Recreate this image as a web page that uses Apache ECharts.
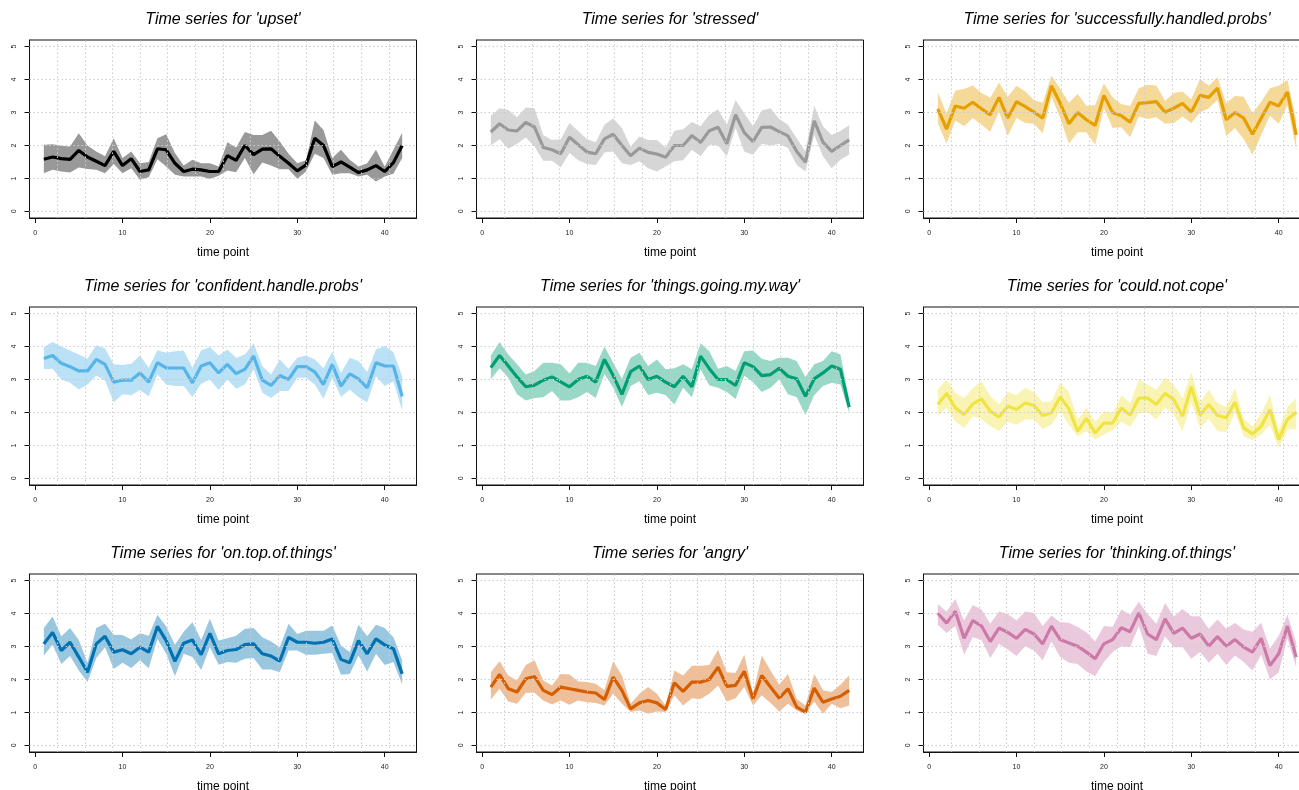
<!DOCTYPE html>
<html><head><meta charset="utf-8">
<script src="https://cdn.jsdelivr.net/npm/echarts@6/dist/echarts.min.js"></script>
<style>html,body{margin:0;padding:0;background:#fff;overflow:hidden}#c{width:1299px;height:790px}</style>
</head><body><div id="c"></div><script>
const timePoints = [1,2,3,4,5,6,7,8,9,10,11,12,13,14,15,16,17,18,19,20,21,22,23,24,25,26,27,28,29,30,31,32,33,34,35,36,37,38,39,40,41,42];
const variableNames = ['upset','stressed','successfully.handled.probs','confident.handle.probs','things.going.my.way','could.not.cope','on.top.of.things','angry','thinking.of.things'];
const xTickValues = [0,10,20,30,40];
const yTickValues = [0,1,2,3,4,5];
const xAxisTitle = 'time point';

const upsetMean  = [1.58,1.65,1.6,1.58,1.85,1.65,1.52,1.39,1.82,1.39,1.6,1.21,1.26,1.9,1.87,1.46,1.21,1.28,1.26,1.21,1.21,1.69,1.55,2.0,1.72,1.89,1.9,1.67,1.46,1.23,1.41,2.22,2.0,1.36,1.5,1.34,1.18,1.26,1.39,1.21,1.48,2.0];
const upsetUpper = [2.02,2.04,1.99,1.97,2.37,2.0,1.82,1.67,2.22,1.62,1.82,1.46,1.5,2.22,2.34,1.77,1.39,1.57,1.46,1.46,1.36,2.1,1.94,2.41,2.32,2.32,2.45,2.12,1.75,1.46,1.55,2.76,2.47,1.62,1.87,1.57,1.36,1.46,1.87,1.36,1.87,2.39];
const upsetLower = [1.16,1.26,1.21,1.18,1.33,1.29,1.26,1.16,1.44,1.16,1.31,0.96,1.04,1.58,1.36,1.11,1.06,1.06,1.06,0.98,1.08,1.24,1.19,1.62,1.13,1.48,1.39,1.28,1.28,0.99,1.21,1.75,1.62,1.11,1.16,1.16,1.06,1.11,0.91,1.06,1.14,1.62];

const stressedMean  = [2.41,2.66,2.47,2.44,2.7,2.56,1.94,1.87,1.75,2.25,2.02,1.8,1.75,2.2,2.34,2.0,1.69,1.92,1.79,1.74,1.64,2.0,2.0,2.3,2.09,2.45,2.55,2.05,2.93,2.39,2.12,2.55,2.56,2.42,2.29,1.82,1.49,2.75,2.1,1.82,2.0,2.17];
const stressedUpper = [2.9,3.13,3.08,2.86,3.15,3.13,2.32,2.17,2.19,2.68,2.44,2.19,2.1,2.63,2.82,2.53,1.97,2.27,2.17,2.17,1.94,2.45,2.49,2.71,2.58,2.93,3.1,2.63,3.38,2.98,2.58,3.06,3.13,2.8,2.63,2.22,1.82,3.2,2.58,2.32,2.44,2.61];
const stressedLower = [2.0,2.19,1.9,2.05,2.24,1.97,1.54,1.54,1.34,1.77,1.55,1.44,1.41,1.79,1.82,1.46,1.41,1.52,1.31,1.21,1.36,1.52,1.55,1.87,1.67,2.02,2.0,1.67,2.53,1.82,1.72,2.05,2.0,2.05,1.92,1.41,1.21,2.32,1.67,1.31,1.57,1.72];

const successMean  = [3.11,2.5,3.2,3.13,3.31,3.11,2.93,3.46,2.83,3.33,3.18,3.01,2.83,3.81,3.28,2.66,3.0,2.78,2.61,3.52,3.0,2.9,2.71,3.28,3.3,3.33,3.01,3.13,3.28,3.01,3.52,3.46,3.74,2.78,3.0,2.83,2.34,2.83,3.31,3.2,3.62,2.32];
const successUpper = [3.61,2.98,3.67,3.71,3.82,3.59,3.45,3.91,3.48,3.81,3.64,3.38,3.3,4.12,3.72,3.3,3.57,3.2,3.23,3.89,3.46,3.25,3.2,3.74,3.84,3.82,3.36,3.59,3.64,3.4,4.02,3.81,4.07,3.28,3.51,3.48,2.98,3.33,3.74,3.81,3.99,2.78];
const successLower = [2.68,2.05,2.76,2.58,2.83,2.63,2.42,3.03,2.29,2.83,2.68,2.66,2.37,3.48,2.83,2.05,2.4,2.4,2.02,3.13,2.53,2.55,2.25,2.88,2.8,2.86,2.66,2.68,2.88,2.68,3.0,3.13,3.38,2.29,2.53,2.19,1.72,2.32,2.9,2.66,3.23,1.87];

const confidentMean  = [3.64,3.73,3.49,3.39,3.26,3.26,3.61,3.46,2.92,2.98,2.98,3.2,2.92,3.51,3.35,3.35,3.35,2.9,3.41,3.51,3.2,3.46,3.18,3.31,3.71,2.98,2.82,3.12,3.0,3.39,3.39,3.23,2.85,3.46,2.8,3.17,3.02,2.75,3.51,3.41,3.41,2.49];
const confidentUpper = [3.99,4.14,4.0,3.88,3.76,3.63,4.04,3.94,3.46,3.44,3.48,3.73,3.36,3.89,3.81,3.86,3.88,3.36,3.88,3.99,3.73,3.91,3.66,3.76,4.1,3.41,3.15,3.61,3.33,3.66,3.73,3.61,3.34,3.84,3.2,3.66,3.56,3.23,3.91,4.02,3.83,3.1];
const confidentLower = [3.31,3.33,3.0,2.9,2.7,2.85,3.12,2.97,2.31,2.55,2.52,2.68,2.49,3.15,2.85,2.8,2.8,2.47,2.87,3.0,2.68,3.0,2.72,2.85,3.31,2.6,2.44,2.65,2.65,3.05,3.05,2.85,2.42,3.05,2.47,2.7,2.47,2.31,3.1,2.8,2.95,2.06];

const thingsMean  = [3.36,3.73,3.41,3.08,2.78,2.83,2.98,3.08,2.93,2.78,3.0,3.1,2.92,3.61,3.12,2.55,3.24,3.41,3.0,3.1,2.92,2.78,3.1,2.78,3.71,3.33,3.0,3.0,2.82,3.51,3.39,3.12,3.15,3.34,3.1,3.02,2.49,3.02,3.2,3.41,3.31,2.16];
const thingsUpper = [3.73,4.14,3.76,3.46,3.15,3.26,3.51,3.51,3.46,3.18,3.51,3.51,3.41,4.0,3.51,3.02,3.66,3.81,3.41,3.61,3.31,3.34,3.46,3.31,4.1,3.86,3.33,3.41,3.26,3.86,3.88,3.63,3.56,3.66,3.66,3.56,3.08,3.46,3.56,3.86,3.76,2.39];
const thingsLower = [3.0,3.34,3.05,2.55,2.36,2.44,2.46,2.65,2.36,2.36,2.46,2.62,2.44,3.17,2.75,2.17,2.8,2.95,2.53,2.6,2.53,2.24,2.75,2.46,3.31,2.82,2.75,2.62,2.41,3.12,2.92,2.62,2.75,3.0,2.55,2.46,1.92,2.52,2.8,2.9,2.85,1.99];

const copeMean  = [2.24,2.58,2.14,1.94,2.26,2.41,2.04,1.86,2.19,2.09,2.29,2.21,1.91,1.99,2.47,2.11,1.43,1.82,1.38,1.68,1.68,2.14,1.92,2.44,2.44,2.24,2.58,2.39,1.89,2.78,1.92,2.24,1.91,1.84,2.31,1.53,1.35,1.58,2.09,1.18,1.79,2.0];
const copeUpper = [2.7,3.0,2.6,2.43,2.74,2.95,2.5,2.24,2.62,2.52,2.75,2.62,2.31,2.34,2.91,2.62,1.79,2.14,1.72,2.04,1.97,2.52,2.29,3.0,2.85,2.7,3.06,2.85,2.43,3.23,2.31,2.69,2.29,2.17,2.74,1.81,1.58,1.98,2.54,1.46,2.17,2.44];
const copeLower = [1.89,2.14,1.73,1.53,1.88,1.8,1.58,1.43,1.73,1.63,1.79,1.79,1.5,1.63,2.04,1.63,1.28,1.43,1.18,1.33,1.45,1.73,1.56,1.98,2.0,1.79,2.14,1.94,1.43,2.31,1.53,1.81,1.43,1.41,1.99,1.28,1.16,1.33,1.63,0.92,1.48,1.5];

const onTopMean  = [3.08,3.43,2.88,3.13,2.68,2.22,3.08,3.31,2.83,2.9,2.78,2.98,2.83,3.61,3.18,2.55,3.1,3.2,2.75,3.4,2.78,2.88,2.91,3.06,3.08,2.78,2.71,2.56,3.28,3.13,3.13,3.1,3.13,3.23,2.61,2.51,3.18,2.78,3.23,3.05,2.93,2.17];
const onTopUpper = [3.56,3.91,3.31,3.56,3.2,2.51,3.56,3.69,3.36,3.35,3.21,3.4,3.33,3.96,3.61,3.05,3.45,3.74,3.2,3.84,3.18,3.25,3.33,3.54,3.56,3.28,3.15,2.98,3.69,3.38,3.48,3.48,3.48,3.64,3.03,2.83,3.66,3.31,3.66,3.56,3.28,2.58];
const onTopLower = [2.73,3.05,2.47,2.71,2.27,1.92,2.65,2.98,2.32,2.51,2.35,2.58,2.34,3.23,2.78,2.1,2.78,2.68,2.29,2.98,2.45,2.53,2.51,2.63,2.65,2.3,2.3,2.22,2.88,2.88,2.75,2.75,2.78,2.8,2.14,2.17,2.73,2.24,2.78,2.44,2.53,1.85];

const angryMean  = [1.77,2.15,1.72,1.62,2.02,2.09,1.67,1.54,1.77,1.72,1.67,1.62,1.59,1.39,2.07,1.67,1.11,1.29,1.36,1.29,1.09,1.9,1.64,1.92,1.92,2.0,2.37,1.79,1.82,2.25,1.41,2.12,1.77,1.43,1.72,1.16,1.01,1.74,1.31,1.41,1.49,1.67];
const angryUpper = [2.22,2.55,2.12,1.97,2.44,2.58,1.97,1.82,2.17,2.15,1.94,1.92,1.87,1.67,2.55,2.12,1.26,1.57,1.77,1.57,1.21,2.27,2.12,2.42,2.42,2.44,2.9,2.22,2.2,2.75,1.57,2.73,2.27,1.84,2.17,1.41,1.21,2.17,1.67,1.62,1.84,2.12];
const angryLower = [1.39,1.72,1.33,1.26,1.6,1.6,1.36,1.24,1.36,1.23,1.36,1.31,1.29,1.21,1.57,1.26,1.01,1.06,0.96,1.03,1.01,1.52,1.21,1.43,1.41,1.57,1.82,1.33,1.43,1.77,1.21,1.52,1.29,1.03,1.26,1.06,0.96,1.33,0.96,1.26,1.13,1.21];

const thinkingMean  = [4.01,3.71,4.07,3.25,3.79,3.62,3.15,3.56,3.43,3.25,3.52,3.38,3.08,3.62,3.21,3.11,3.01,2.83,2.63,3.08,3.21,3.57,3.45,4.02,3.38,3.21,3.84,3.4,3.56,3.25,3.38,3.01,3.3,3.01,3.21,2.98,2.83,3.25,2.42,2.78,3.62,2.68];
const thinkingUpper = [4.29,4.06,4.44,3.79,4.26,4.12,3.69,4.06,3.99,3.79,4.06,4.02,3.62,3.94,3.74,3.72,3.59,3.43,3.15,3.62,3.59,4.12,3.96,4.36,3.99,3.69,4.32,3.91,4.14,3.92,3.92,3.54,3.82,3.54,3.72,3.52,3.45,3.72,2.93,3.33,3.96,3.13];
const thinkingLower = [3.66,3.41,3.62,2.75,3.28,3.2,2.65,3.08,2.91,2.71,3.01,2.88,2.58,3.15,2.68,2.51,2.47,2.24,2.1,2.53,2.83,3.01,2.98,3.62,2.78,2.71,3.31,2.98,2.98,2.63,2.83,2.51,2.78,2.44,2.73,2.53,2.27,2.75,2.0,2.22,3.25,2.37];

const panelMeans  = [upsetMean, stressedMean, successMean, confidentMean, thingsMean, copeMean, onTopMean, angryMean, thinkingMean];
const panelUppers = [upsetUpper, stressedUpper, successUpper, confidentUpper, thingsUpper, copeUpper, onTopUpper, angryUpper, thinkingUpper];
const panelLowers = [upsetLower, stressedLower, successLower, confidentLower, thingsLower, copeLower, onTopLower, angryLower, thinkingLower];
const lineColors = ['#000000','#999999','#E69F00','#56B4E9','#009E73','#F0E442','#0072B2','#D55E00','#CC79A7'];

const FONT = '"Liberation Sans", Arial, Helvetica, sans-serif';
const colLeft = [29.5, 476.5, 923.5], rowTop = [40, 307, 574], W = 387, H = 178;
const XMIN = -0.64, XMAX = 43.64, YMIN = -0.2, YMAX = 5.2;
const vGrid = [];
for (let k = 1; k < 14; k++) vGrid.push(XMIN + k * (XMAX - XMIN) / 14);

function hexToRgba(hex, a) {
  const n = parseInt(hex.slice(1), 16);
  return 'rgba(' + ((n >> 16) & 255) + ',' + ((n >> 8) & 255) + ',' + (n & 255) + ',' + a + ')';
}

function makeBandRenderer(fill) {
  return function (params, api) {
    if (params.dataIndexInside !== 0) return null;
    const n = params.dataInsideLength;
    const top = [], bottom = [];
    for (let k = 0; k < n; k++) {
      const x = api.value(0, k);
      top.push(api.coord([x, api.value(2, k)]));
      bottom.push(api.coord([x, api.value(1, k)]));
    }
    return {type: 'polygon', shape: {points: top.concat(bottom.reverse())}, style: {fill: fill, stroke: null}, silent: true};
  };
}

const grids = [], xAxes = [], yAxes = [], series = [], titles = [];
variableNames.forEach((name, i) => {
  const col = i % 3, row = Math.floor(i / 3);
  const left = colLeft[col], top = rowTop[row];
  grids.push({left: left, top: top, width: W, height: H, show: true, borderColor: '#111', borderWidth: 1,
    backgroundColor: 'transparent', containLabel: false, outerBoundsMode: 'none'});
  titles.push({text: "Time series for '" + name + "'", left: left + W / 2, top: top - 28, textAlign: 'center', padding: 0,
    textStyle: {fontSize: 16, fontStyle: 'italic', fontWeight: 'normal', color: '#000', fontFamily: FONT}});
  xAxes.push({gridIndex: i, type: 'value', min: XMIN, max: XMAX,
    axisLine: {show: true, onZero: false, lineStyle: {color: '#111', width: 1}},
    axisTick: {show: true, length: 5, customValues: xTickValues, lineStyle: {color: '#111'}},
    axisLabel: {customValues: xTickValues, fontSize: 7, color: '#222', margin: 11.5, fontFamily: FONT},
    splitLine: {show: false},
    name: xAxisTitle, nameLocation: 'middle', nameGap: 29,
    nameTextStyle: {fontSize: 12, color: '#000', fontFamily: FONT}});
  yAxes.push({gridIndex: i, type: 'value', min: YMIN, max: YMAX,
    axisLine: {show: true, onZero: false, lineStyle: {color: '#111', width: 1}},
    axisTick: {show: true, length: 5, customValues: yTickValues, lineStyle: {color: '#111'}},
    axisLabel: {customValues: yTickValues, rotate: 90, fontSize: 7, color: '#222', margin: 12, fontFamily: FONT},
    splitLine: {show: false}});
  const lo = panelLowers[i], hi = panelUppers[i], mean = panelMeans[i];
  series.push({type: 'custom', xAxisIndex: i, yAxisIndex: i, silent: true, z: 1,
    renderItem: makeBandRenderer(hexToRgba(lineColors[i], 0.4)),
    encode: {x: 0, y: [1, 2]},
    data: timePoints.map((t, j) => [t, lo[j], hi[j]])});
  series.push({type: 'line', xAxisIndex: i, yAxisIndex: i, symbol: 'none', silent: true,
    data: timePoints.map((t, j) => [t, mean[j]]), lineStyle: {color: lineColors[i], width: 3.2}, z: 3});
  series.push({type: 'line', xAxisIndex: i, yAxisIndex: i, data: [], silent: true, z: 4,
    markLine: {silent: true, symbol: 'none', animation: false, label: {show: false},
      lineStyle: {color: '#cccccc', type: [1.5, 2.5], width: 1},
      emphasis: {disabled: true},
      data: vGrid.map(v => ({xAxis: v})).concat(yTickValues.map(v => ({yAxis: v})))}});
});

const chart = echarts.init(document.getElementById('c'), null, {renderer: 'canvas'});
chart.setOption({animation: false, backgroundColor: '#fff', title: titles, grid: grids, xAxis: xAxes, yAxis: yAxes, series: series});
</script></body></html>
